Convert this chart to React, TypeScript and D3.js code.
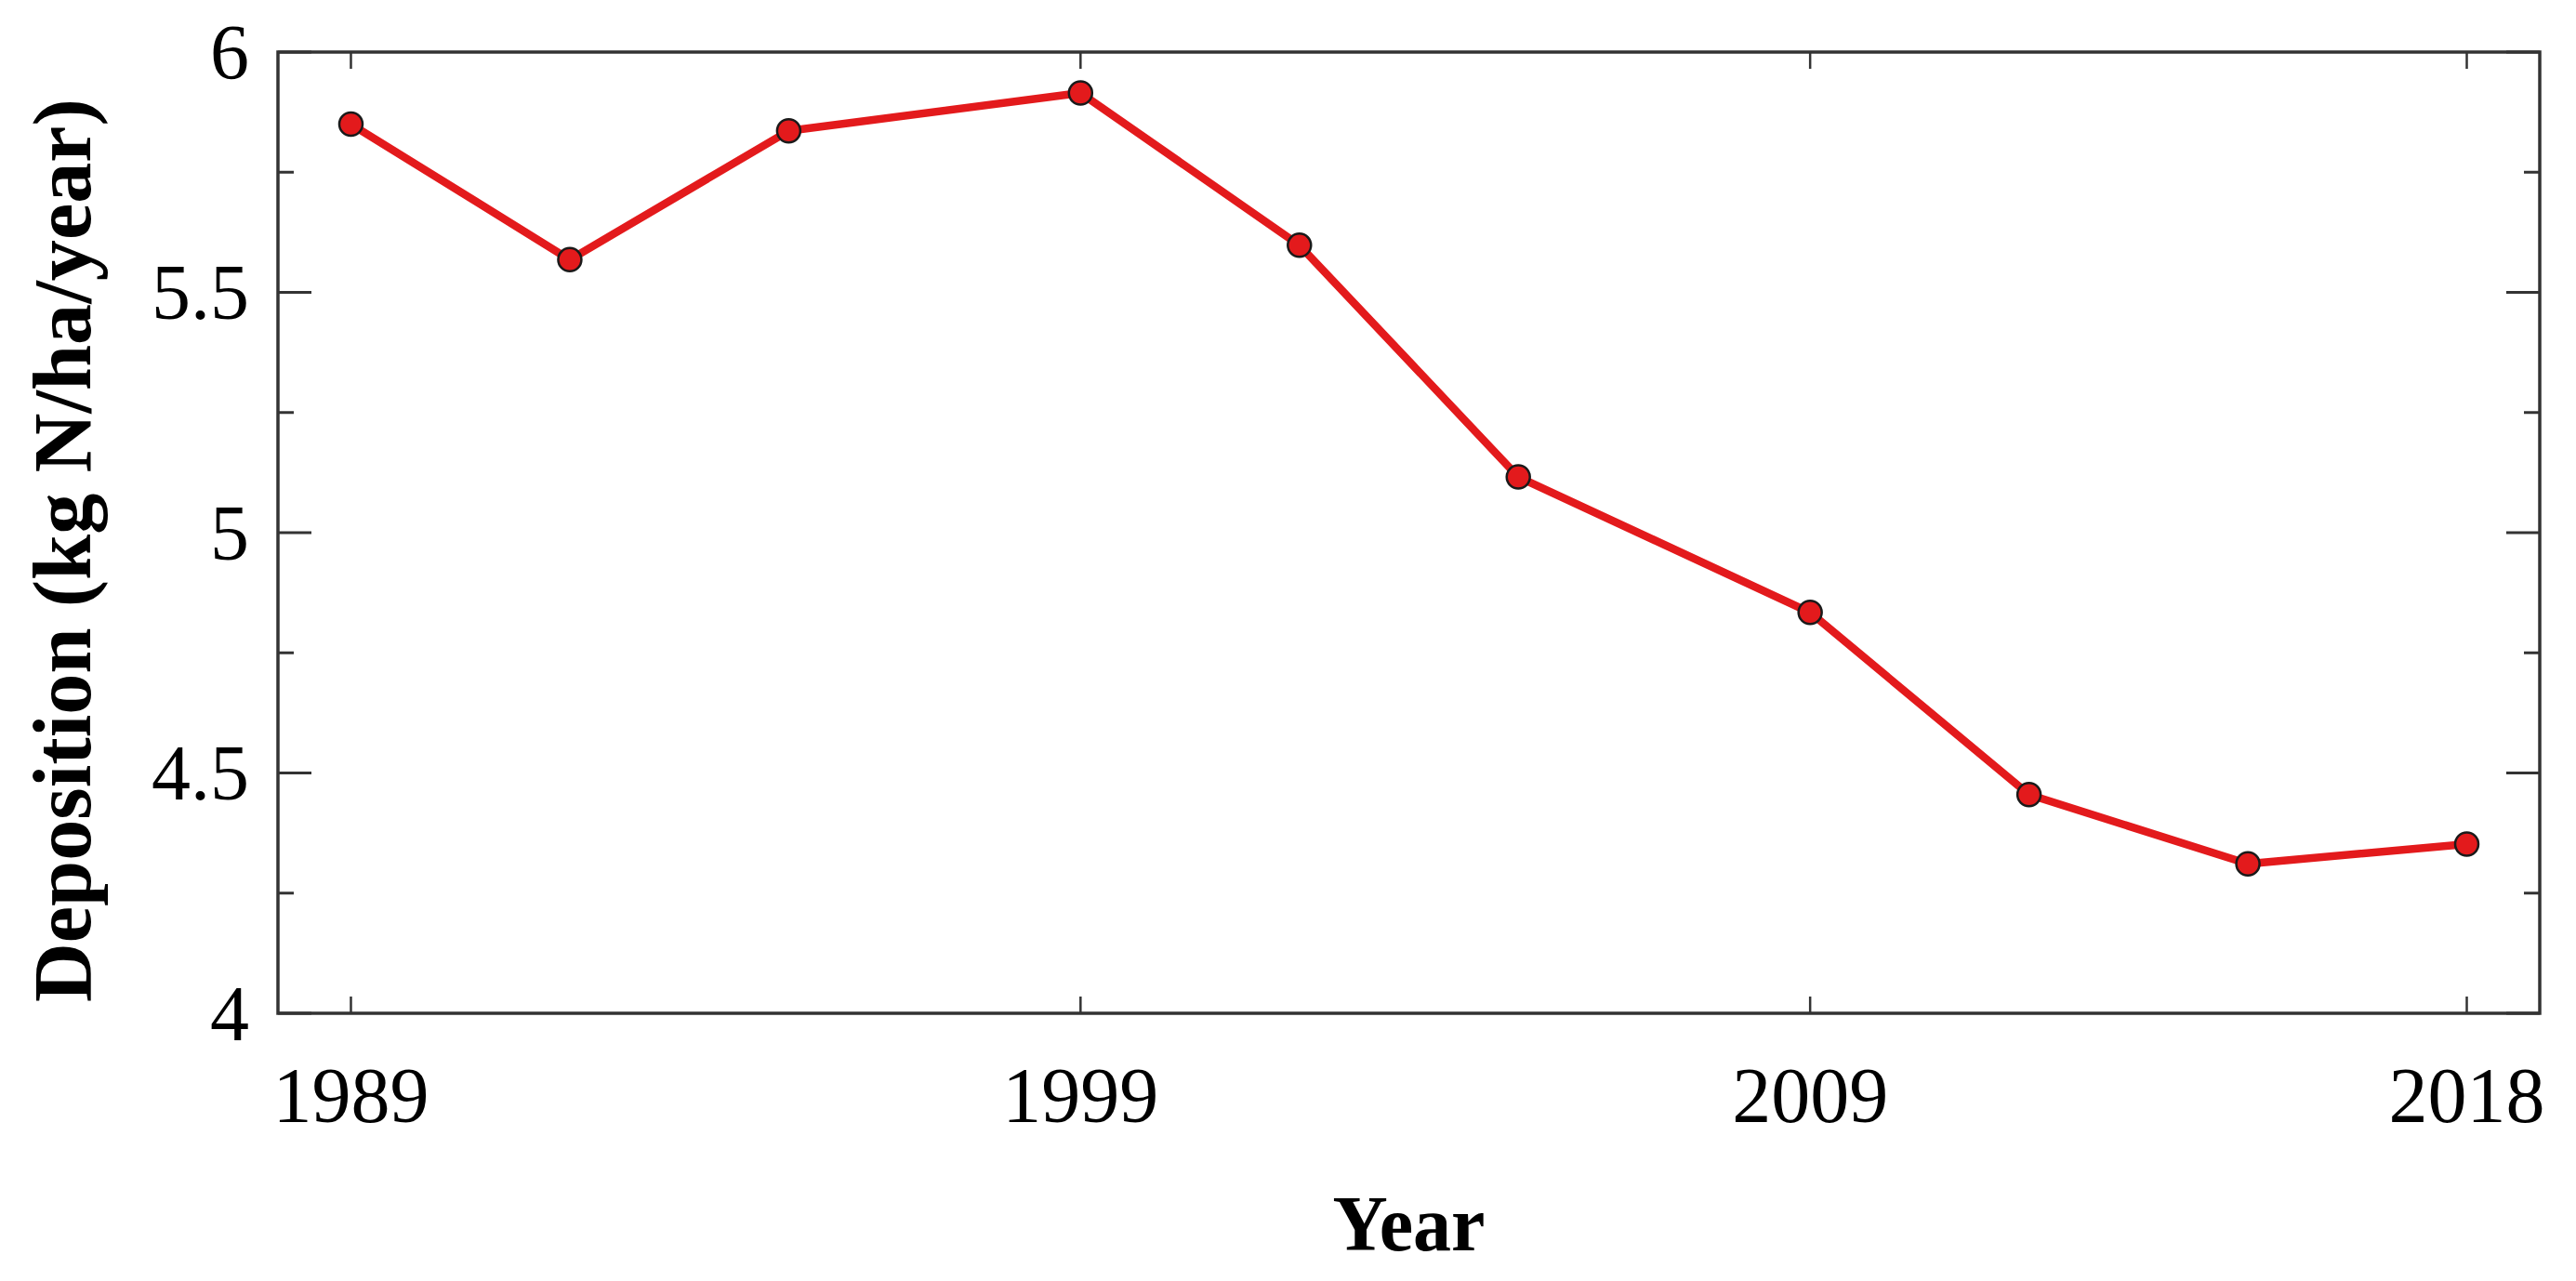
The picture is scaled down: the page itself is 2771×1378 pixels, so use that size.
import React from "react";
import * as d3 from "d3";

const years = [1989, 1992, 1995, 1999, 2002, 2005, 2009, 2012, 2015, 2018];
const deposition = [5.85, 5.568, 5.836, 5.915, 5.598, 5.116, 4.834, 4.455, 4.311, 4.352];
const xTickValues = [1989, 1999, 2009, 2018];
const yMajorTicks = [4, 4.5, 5, 5.5, 6];
const yMinorTicks = [4.25, 4.75, 5.25, 5.75];
const xLabel = "Year";
const yLabel = "Deposition (kg N/ha/year)";

const W = 2771;
const H = 1378;
const M = { left: 299, right: 2732, top: 56, bottom: 1090 };

export default function App() {
  const x = d3.scaleLinear().domain([1988, 2019]).range([M.left, M.right]);
  const y = d3.scaleLinear().domain([4, 6]).range([M.bottom, M.top]);
  const line = d3
    .line<number>()
    .x((_, i) => x(years[i]))
    .y((d) => y(d));
  const font = "'Liberation Serif', 'Times New Roman', serif";
  const axisColor = "#333";
  const red = "#e31a1c";

  return (
    <svg
      width={W}
      height={H}
      style={{ position: "absolute", left: 0, top: 0, background: "#fff" }}
    >
      <rect x={0} y={0} width={W} height={H} fill="#fff" />
      <rect
        x={M.left}
        y={M.top}
        width={M.right - M.left}
        height={M.bottom - M.top}
        fill="none"
        stroke={axisColor}
        strokeWidth={3.5}
      />
      {yMajorTicks.map((t) => (
        <g key={"ym" + t}>
          <line x1={M.left} x2={M.left + 36} y1={y(t)} y2={y(t)} stroke={axisColor} strokeWidth={3} />
          <line x1={M.right} x2={M.right - 36} y1={y(t)} y2={y(t)} stroke={axisColor} strokeWidth={3} />
          <text
            x={M.left - 31}
            y={y(t)}
            textAnchor="end"
            dominantBaseline="central"
            fontFamily={font}
            fontSize={84}
            fill="#000"
          >
            {String(t)}
          </text>
        </g>
      ))}
      {yMinorTicks.map((t) => (
        <g key={"yn" + t}>
          <line x1={M.left} x2={M.left + 17} y1={y(t)} y2={y(t)} stroke={axisColor} strokeWidth={3} />
          <line x1={M.right} x2={M.right - 17} y1={y(t)} y2={y(t)} stroke={axisColor} strokeWidth={3} />
        </g>
      ))}
      {xTickValues.map((t) => (
        <g key={"x" + t}>
          <line x1={x(t)} x2={x(t)} y1={M.bottom} y2={M.bottom - 18} stroke={axisColor} strokeWidth={2.5} />
          <line x1={x(t)} x2={x(t)} y1={M.top} y2={M.top + 18} stroke={axisColor} strokeWidth={2.5} />
          <text
            x={x(t)}
            y={M.bottom + 117}
            textAnchor="middle"
            fontFamily={font}
            fontSize={84}
            fill="#000"
          >
            {t}
          </text>
        </g>
      ))}
      <path d={line(deposition) || ""} fill="none" stroke={red} strokeWidth={8.5} strokeLinejoin="round" />
      {deposition.map((v, i) => (
        <circle key={i} cx={x(years[i])} cy={y(v)} r={12.5} fill={red} stroke="#1a1a1a" strokeWidth={2.5} />
      ))}
      <text
        x={(M.left + M.right) / 2}
        y={1345}
        textAnchor="middle"
        fontFamily={font}
        fontWeight="bold"
        fontSize={84}
        fill="#000"
        textLength={164}
        lengthAdjust="spacingAndGlyphs"
      >
        {xLabel}
      </text>
      <text
        transform={`translate(97, 592) rotate(-90)`}
        textAnchor="middle"
        fontFamily={font}
        fontWeight="bold"
        fontSize={88}
        fill="#000"
        textLength={972}
        lengthAdjust="spacingAndGlyphs"
      >
        {yLabel}
      </text>
    </svg>
  );
}
